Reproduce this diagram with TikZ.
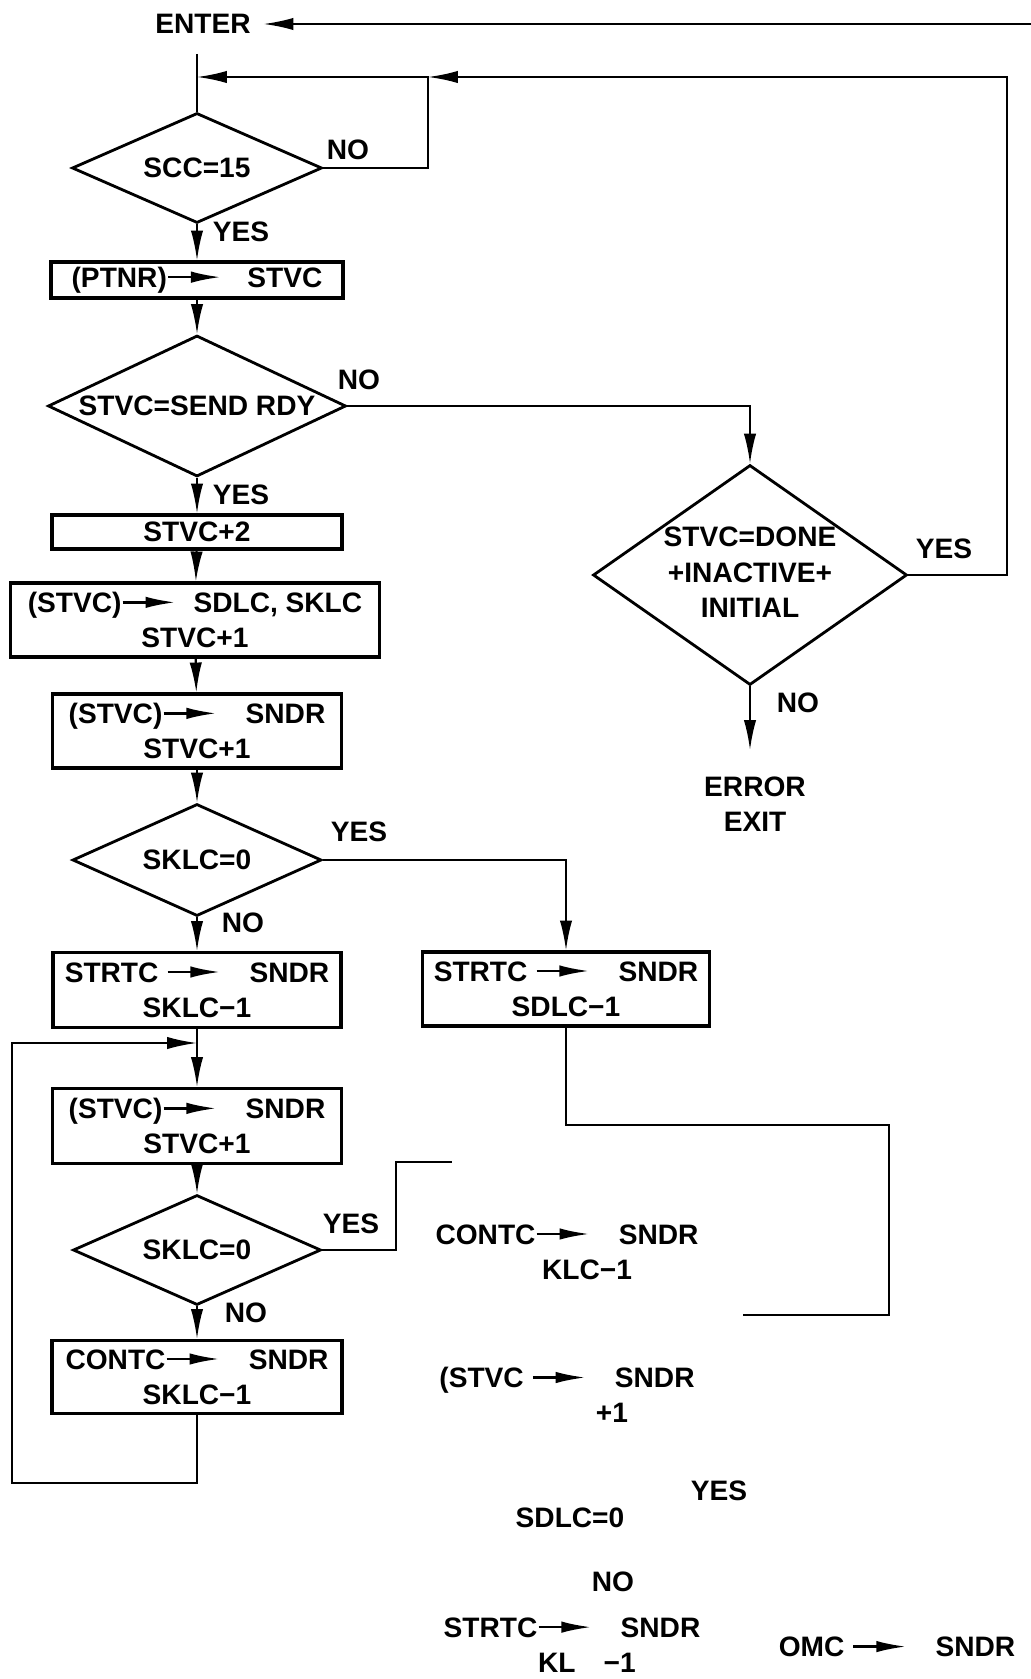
\documentclass[tikz,border=0pt]{standalone}
\usepackage{fontspec}
\setmainfont{Liberation Sans}
\usetikzlibrary{positioning,arrows.meta,shapes.geometric}
\newcommand{\sndarrow}{\tikz[baseline=-0.36em]\draw[line width=1.4pt,-{Latex[length=17pt,width=6.5pt]}] (0,0) -- (30pt,0);}
\newcommand{\ctr}[1]{\makebox[0pt]{#1}}

\begin{document}
\begin{tikzpicture}[
    every node/.style={font=\bfseries\fontsize{16}{20}\selectfont},
    box/.style={draw, line width=1.8pt, align=center, inner sep=0pt},
    decision/.style={draw, diamond, line width=1.6pt, inner sep=0pt},
    flow/.style={line width=1.2pt, -{Latex[length=17pt,width=7pt]}},
    wire/.style={line width=1.2pt}
  ]
    \useasboundingbox (0,0) rectangle (20.62,-33.58);

    \node[inner xsep=0.25cm] (enter) at (4.06,-0.48) {ENTER};
    \coordinate (enterin) at (20.62,-0.48);
    \coordinate (top) at (3.94,-1.08);
    \coordinate (ltop) at (3.94,-1.54);
    \coordinate (junc) at (8.56,-1.54);
    \coordinate (rtop) at (20.14,-1.54);

    \node[decision, minimum width=5cm, minimum height=2.2cm] (scc) at (3.94,-3.36) {\ctr{SCC=15}};
    \node (scc-no) at (6.96,-3.0) {NO};
    \node (scc-yes) at (4.82,-4.64) {YES};
    \node[box, minimum width=5.84cm, minimum height=0.72cm] (ptnr) at (3.94,-5.6) {(PTNR)\sndarrow\hspace{0.9em}STVC};

    \node[decision, minimum width=5.96cm, minimum height=2.82cm] (rdy) at (3.94,-8.12) {\ctr{STVC=SEND RDY}};
    \node (rdy-no) at (7.18,-7.6) {NO};
    \node (rdy-yes) at (4.82,-9.9) {YES};
    \node[box, minimum width=5.8cm, minimum height=0.68cm] (inc2) at (3.94,-10.64) {STVC+2};
    \node[box, minimum width=7.38cm, minimum height=1.48cm] (load) at (3.9,-12.4) {(STVC)\sndarrow\hspace{0.6em}SDLC, SKLC\\STVC+1};
    \node[box, minimum width=5.78cm, minimum height=1.48cm] (snd1) at (3.94,-14.62) {(STVC)\sndarrow\hspace{1em}SNDR\\STVC+1};

    \node[decision, minimum width=6.28cm, minimum height=4.4cm] (done) at (15.0,-11.5) {\ctr{\raisebox{-0.2cm}{\begin{tabular}{@{}c@{}}STVC=DONE\\+INACTIVE+\\INITIAL\end{tabular}}}};
    \node (done-yes) at (18.88,-10.98) {YES};
    \node (done-no) at (15.96,-14.06) {NO};
    \coordinate (errtip) at (15.0,-15.0);
    \node[align=center] (exit) at (15.1,-16.08) {ERROR\\EXIT};

    \node[decision, minimum width=4.98cm, minimum height=2.24cm] (sklc1) at (3.94,-17.2) {\ctr{SKLC=0}};
    \node (sklc1-yes) at (7.18,-16.64) {YES};
    \node (sklc1-no) at (4.86,-18.46) {NO};
    \node[box, minimum width=5.76cm, minimum height=1.5cm] (strt1) at (3.94,-19.8) {STRTC\ \sndarrow\hspace{1em}SNDR\\SKLC−1};
    \node[box, minimum width=5.74cm, minimum height=1.48cm] (strt2) at (11.32,-19.78) {STRTC\ \sndarrow\hspace{1em}SNDR\\SDLC−1};
    \node[box, minimum width=5.78cm, minimum height=1.5cm] (snd2) at (3.94,-22.52) {(STVC)\sndarrow\hspace{1em}SNDR\\STVC+1};

    \node[decision, minimum width=4.96cm, minimum height=2.2cm] (sklc2) at (3.94,-25.0) {\ctr{SKLC=0}};
    \node (sklc2-yes) at (7.02,-24.48) {YES};
    \node (sklc2-no) at (4.92,-26.26) {NO};
    \node[box, minimum width=5.8cm, minimum height=1.46cm] (cont1) at (3.94,-27.54) {CONTC\sndarrow\hspace{1em}SNDR\\SKLC−1};

    \node[align=center] (cont2) at (11.34,-25.04) {CONTC\sndarrow\hspace{1em}SNDR\\\hspace*{0.8cm}KLC−1};
    \node[align=center] (snd3) at (11.34,-27.9) {(STVC\ \sndarrow\hspace{1em}SNDR\\\hspace*{1.8cm}+1};
    \node (sdlc-yes) at (14.38,-29.82) {YES};
    \node (sdlc) at (11.4,-30.36) {SDLC=0};
    \node (sdlc-no) at (12.26,-31.64) {NO};
    \node[align=center] (strt3) at (11.44,-32.9) {STRTC\sndarrow\hspace{1em}SNDR\\\hspace*{0.6cm}KL\hspace{1em}−1};
    \node (omc) at (17.94,-32.94) {OMC\ \sndarrow\hspace{1em}SNDR};

    \coordinate (lpin) at (3.94,-20.86);
    \coordinate (lpbot) at (0.24,-29.66);
    \coordinate (yturn) at (7.92,-23.24);
    \coordinate (yend) at (9.04,-23.24);
    \coordinate (rturn) at (17.78,-22.5);
    \coordinate (rend) at (14.86,-26.3);

    \draw[flow] (enterin) -- (enter.east);
    \draw[wire] (top) -- (scc.north);
    \draw[flow] (scc.east) -| (junc) -- (ltop);
    \draw[flow] (done.east) -| (rtop) -- (junc);
    \draw[flow] (scc) -- (ptnr);
    \draw[flow] (ptnr) -- (rdy);
    \draw[flow] (rdy.east) -| (done.north);
    \draw[flow] (rdy) -- (inc2);
    \draw[flow] (inc2) -- (load);
    \draw[flow] (load) -- (snd1);
    \draw[flow] (snd1) -- (sklc1);
    \draw[flow] (done.south) -- (errtip);
    \draw[flow] (sklc1) -- (strt1);
    \draw[flow] (sklc1.east) -| (strt2.north);
    \draw[flow] (strt1) -- (snd2);
    \draw[flow] (snd2) -- (sklc2);
    \draw[flow] (sklc2) -- (cont1);
    \draw[flow] (cont1.south) |- (lpbot) |- (lpin);
    \draw[wire] (sklc2.east) -| (yturn) -- (yend);
    \draw[wire] (strt2.south) |- (rturn) |- (rend);
  \end{tikzpicture}
\end{document}
